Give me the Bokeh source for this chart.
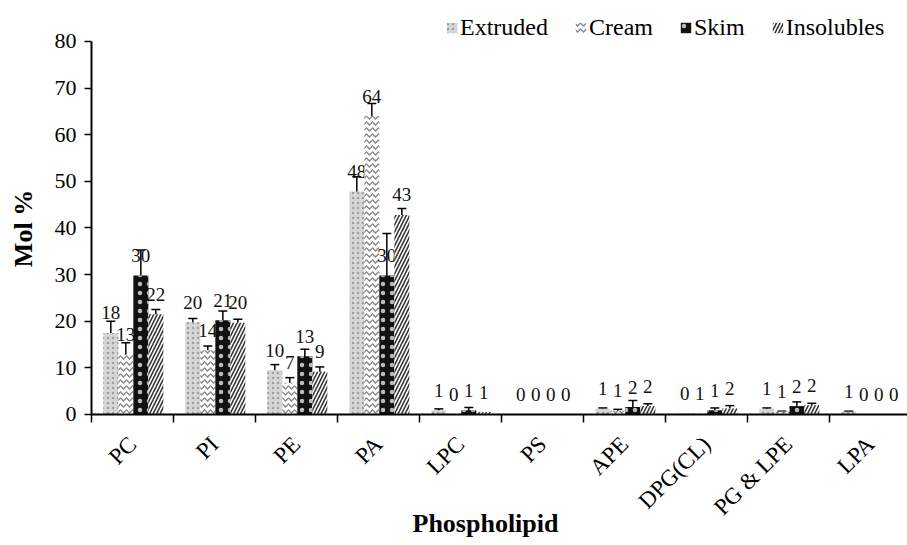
import math
from bokeh.plotting import figure
from bokeh.models import (ColumnDataSource, Range1d, FixedTicker, Legend, LegendItem,
                          Whisker, TeeHead, Label)
from bokeh.core.properties import value
from bokeh.embed import file_html
from bokeh.resources import INLINE

categories = ["PC", "PI", "PE", "PA", "LPC", "PS", "APE", "DPG(CL)", "PG & LPE", "LPA"]
series_names = ["Extruded", "Cream", "Skim", "Insolubles"]

extruded = [17.5, 19.8, 9.5, 47.8, 0.9, 0.0, 1.2, 0.2, 1.2, 0.6]
cream = [12.8, 13.8, 6.8, 64.0, 0.1, 0.0, 0.8, 0.3, 0.6, 0.0]
skim = [29.8, 20.2, 12.5, 29.8, 0.9, 0.0, 1.6, 0.9, 1.8, 0.0]
insolubles = [21.5, 19.7, 9.2, 42.8, 0.5, 0.0, 1.8, 1.3, 2.0, 0.0]

extruded_err = [2.5, 0.8, 1.2, 3.2, 0.3, 0.0, 0.2, 0.0, 0.2, 0.1]
cream_err = [2.6, 0.9, 1.1, 2.7, 0.0, 0.0, 0.3, 0.0, 0.1, 0.0]
skim_err = [5.5, 2.0, 1.5, 9.0, 0.6, 0.0, 1.4, 0.5, 0.9, 0.0]
insolubles_err = [1.0, 0.7, 1.0, 1.4, 0.0, 0.0, 0.5, 0.6, 0.4, 0.0]

extruded_lbl = ["18", "20", "10", "48", "1", "0", "1", "0", "1", "1"]
cream_lbl = ["13", "14", "7", "64", "0", "0", "1", "1", "1", "0"]
skim_lbl = ["30", "21", "13", "30", "1", "0", "2", "1", "2", "0"]
insolubles_lbl = ["22", "20", "9", "43", "1", "0", "2", "2", "2", "0"]

y_ticks = [0, 10, 20, 30, 40, 50, 60, 70, 80]

SERIF = "Liberation Serif"
W, H = 907, 545

# frame covers the whole page; axes are pinned at x=0 / y=0
p = figure(width=W, height=H, x_range=Range1d(-1.1098, 9.951), y_range=Range1d(-28.10, 88.79),
           output_backend="svg", toolbar_location=None,
           min_border_left=0, min_border_right=0, min_border_top=0, min_border_bottom=0)
p.outline_line_color = None
p.xgrid.visible = False
p.ygrid.visible = False
p.background_fill_color = "white"

bw = 0.183
styles = [
    dict(fill_color="#d6d6d6", hatch_pattern="dot", hatch_color="#a0a0a0", hatch_scale=5, hatch_weight=1),
    dict(fill_color="white", hatch_pattern="horizontal_wave", hatch_color="#8a8a8a", hatch_scale=6, hatch_weight=1.5),
    dict(fill_color="#111111", hatch_pattern="dot", hatch_color="#bbbbbb", hatch_scale=9, hatch_weight=1),
    dict(fill_color="white", hatch_pattern="right_diagonal_line", hatch_color="#333333", hatch_scale=7, hatch_weight=1.6),
]
vals = [extruded, cream, skim, insolubles]
errs = [extruded_err, cream_err, skim_err, insolubles_err]
lbls = [extruded_lbl, cream_lbl, skim_lbl, insolubles_lbl]

items = []
for j, name in enumerate(series_names):
    xs = [i + 0.51 + (j - 1.5) * bw for i in range(len(categories))]
    src = ColumnDataSource(dict(x=xs, top=vals[j], lbl=lbls[j]))
    r = p.vbar(x="x", top="top", bottom=0, width=bw, source=src, line_color=None, **styles[j])
    items.append(LegendItem(label=name, renderers=[r]))
    ex = [x for x, e in zip(xs, errs[j]) if e > 0]
    ev = [v for v, e in zip(vals[j], errs[j]) if e > 0]
    ee = [e for e in errs[j] if e > 0]
    esrc = ColumnDataSource(dict(x=ex, upper=[v + e for v, e in zip(ev, ee)],
                                 lower=[max(v - e, 0) for v, e in zip(ev, ee)]))
    w = Whisker(base="x", upper="upper", lower="lower", source=esrc, line_color="black", line_width=1.5,
                upper_head=TeeHead(size=9, line_width=1.5, line_color="black"),
                lower_head=TeeHead(size=9, line_width=1.5, line_color="black"))
    p.add_layout(w)
    p.text(x="x", y="top", text="lbl", source=src, text_font=value(SERIF), text_font_size="19px",
           text_align="center", text_baseline="middle", y_offset=-20, text_color="#111111")

# x axis (pinned at y = 0)
xa = p.xaxis[0]
xa.fixed_location = 0
xa.bounds = (0, 10)
xa.ticker = FixedTicker(ticks=[i + 0.5 for i in range(len(categories))], minor_ticks=list(range(len(categories) + 1)))
xa.major_label_overrides = {i + 0.5: c for i, c in enumerate(categories)}
xa.major_label_orientation = math.pi / 4
xa.major_tick_out = 0
xa.major_tick_in = 0
xa.minor_tick_out = 8
xa.minor_tick_in = 0
xa.minor_tick_line_color = "black"
xa.minor_tick_line_width = 1.5
xa.axis_line_width = 2
xa.axis_line_color = "black"
xa.major_label_text_font = SERIF
xa.major_label_text_font_size = "23px"
xa.major_label_text_color = "black"
xa.major_label_standoff = 18

# y axis (pinned at x = 0)
ya = p.yaxis[0]
ya.fixed_location = 0
ya.bounds = (0, 80)
ya.ticker = FixedTicker(ticks=y_ticks, minor_ticks=[])
ya.major_tick_out = 7
ya.major_tick_in = 0
ya.major_tick_line_width = 1.5
ya.axis_line_width = 2
ya.axis_line_color = "black"
ya.major_label_text_font = SERIF
ya.major_label_text_font_size = "22px"
ya.major_label_text_color = "black"
ya.major_label_standoff = 8

xtitle = Label(x=485, y=H - 523, x_units="screen", y_units="screen", text="Phospholipid",
               text_font=SERIF, text_font_style="bold", text_font_size="26px", text_color="black",
               text_align="center", text_baseline="middle")
p.add_layout(xtitle)

ytitle = Label(x=23, y=H - 228, x_units="screen", y_units="screen", text="Mol %", angle=math.pi / 2,
               text_font=SERIF, text_font_style="bold", text_font_size="26px", text_color="black",
               text_align="center", text_baseline="middle")
p.add_layout(ytitle)

legend = Legend(items=items, orientation="horizontal", location=(445, H - 41),
                label_text_font=SERIF, label_text_font_size="24px", label_text_color="black",
                glyph_width=13, glyph_height=13, label_standoff=2, spacing=26,
                padding=2, margin=0, border_line_color=None, background_fill_alpha=0)
p.add_layout(legend)

open("out.html", "w").write(file_html(p, INLINE))
